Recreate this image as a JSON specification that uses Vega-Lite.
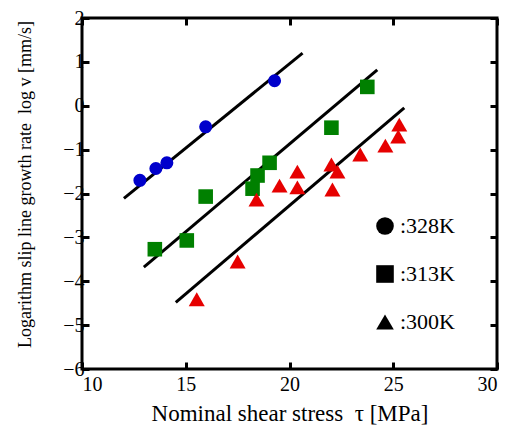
{
  "$schema": "https://vega.github.io/schema/vega-lite/v6.json",
  "width": 415,
  "height": 351,
  "autosize": {"type": "none"},
  "padding": {"left": 82, "top": 18, "right": 16, "bottom": 56},
  "background": "white",
  "config": {
    "view": {"stroke": "black", "strokeWidth": 3},
    "axis": {
      "grid": false,
      "domain": false,
      "labelFont": "Liberation Serif",
      "labelFontSize": 20,
      "labelColor": "black",
      "titleFont": "Liberation Serif",
      "titleFontWeight": "normal",
      "titleColor": "black",
      "tickColor": "black",
      "tickWidth": 3,
      "tickSize": -7
    },
    "legend": {"labelFont": "Liberation Serif"}
  },
  "datasets": {
    "points": [
      {"series": "328K", "tau": 12.79, "logv": -1.70},
      {"series": "328K", "tau": 13.56, "logv": -1.43},
      {"series": "328K", "tau": 14.09, "logv": -1.30},
      {"series": "328K", "tau": 15.96, "logv": -0.48},
      {"series": "328K", "tau": 19.28, "logv": 0.57},
      {"series": "313K", "tau": 13.51, "logv": -3.27},
      {"series": "313K", "tau": 15.05, "logv": -3.07},
      {"series": "313K", "tau": 15.96, "logv": -2.07},
      {"series": "313K", "tau": 18.22, "logv": -1.89},
      {"series": "313K", "tau": 18.46, "logv": -1.59},
      {"series": "313K", "tau": 19.04, "logv": -1.30},
      {"series": "313K", "tau": 22.02, "logv": -0.50},
      {"series": "313K", "tau": 23.75, "logv": 0.43},
      {"series": "300K", "tau": 15.53, "logv": -4.41},
      {"series": "300K", "tau": 17.50, "logv": -3.55},
      {"series": "300K", "tau": 18.41, "logv": -2.14},
      {"series": "300K", "tau": 19.52, "logv": -1.82},
      {"series": "300K", "tau": 20.38, "logv": -1.50},
      {"series": "300K", "tau": 20.38, "logv": -1.86},
      {"series": "300K", "tau": 22.02, "logv": -1.34},
      {"series": "300K", "tau": 22.07, "logv": -1.91},
      {"series": "300K", "tau": 22.31, "logv": -1.50},
      {"series": "300K", "tau": 23.41, "logv": -1.11},
      {"series": "300K", "tau": 24.62, "logv": -0.91},
      {"series": "300K", "tau": 25.24, "logv": -0.70},
      {"series": "300K", "tau": 25.29, "logv": -0.43}
    ],
    "fits": [
      {"series": "328K", "tau": 12.02, "logv": -2.11},
      {"series": "328K", "tau": 20.63, "logv": 1.20},
      {"series": "313K", "tau": 12.98, "logv": -3.68},
      {"series": "313K", "tau": 24.23, "logv": 0.82},
      {"series": "300K", "tau": 14.52, "logv": -4.48},
      {"series": "300K", "tau": 25.53, "logv": -0.05}
    ]
  },
  "layer": [
    {
      "data": {"name": "fits"},
      "mark": {"type": "line", "color": "black", "strokeWidth": 3, "strokeCap": "butt"},
      "encoding": {
        "x": {"field": "tau", "type": "quantitative",
              "scale": {"domain": [10, 30], "nice": false, "zero": false},
              "axis": {"orient": "top", "values": [10, 15, 20, 25, 30], "labels": false, "title": null}},
        "y": {"field": "logv", "type": "quantitative",
              "scale": {"domain": [-6, 2], "nice": false, "zero": false},
              "axis": {"orient": "right", "values": [-6, -5, -4, -3, -2, -1, 0, 1, 2], "labels": false, "title": null}},
        "detail": {"field": "series"}
      }
    },
    {
      "data": {"name": "points"},
      "mark": {"type": "point", "filled": true, "opacity": 1, "strokeWidth": 0},
      "encoding": {
        "x": {"field": "tau", "type": "quantitative",
              "scale": {"domain": [10, 30], "nice": false, "zero": false},
              "axis": {"orient": "bottom", "values": [10, 15, 20, 25, 30], "labelPadding": 12,
                       "labelFont": "Liberation Serif", "labelFontSize": 20,
                       "title": "Nominal shear stress\u00a0\u00a0τ [MPa]", "titleFontSize": 23,
                       "titleFont": "Liberation Serif",
                       "titleY": 51, "titleBaseline": "alphabetic"}},
        "y": {"field": "logv", "type": "quantitative",
              "scale": {"domain": [-6, 2], "nice": false, "zero": false},
              "axis": {"orient": "left", "values": [-6, -5, -4, -3, -2, -1, 0, 1, 2], "labelPadding": 5,
                       "labelFont": "Liberation Serif", "labelFontSize": 20,
                       "title": "Logarithm slip line growth rate\u00a0\u00a0log v [mm/s]", "titleFontSize": 18,
                       "titleFont": "Liberation Serif",
                       "titleX": -57, "titleY": 166, "titleBaseline": "middle"}},
        "color": {"field": "series", "type": "nominal",
                  "scale": {"domain": ["328K", "313K", "300K"], "range": ["#0000cc", "#008000", "#e60000"]},
                  "legend": {"orient": "top-left", "title": null, "symbolOpacity": 0, "labelOpacity": 0}},
        "size": {"field": "series", "type": "nominal",
                 "scale": {"domain": ["328K", "313K", "300K"], "range": [170, 256, 225]},
                 "legend": null},
        "shape": {"field": "series", "type": "nominal",
                  "scale": {"domain": ["328K", "313K", "300K"], "range": ["circle", "square", "triangle-up"]},
                  "legend": {"orient": "none", "legendX": 292, "legendY": 197, "title": null,
                             "labelExpr": "':' + datum.label",
                             "labelFont": "Liberation Serif", "labelFontSize": 22, "labelColor": "black",
                             "labelOffset": 4, "symbolSize": 310, "symbolFillColor": "black",
                             "symbolStrokeColor": "black", "symbolStrokeWidth": 0, "symbolOpacity": 1,
                             "rowPadding": 26}}
      }
    }
  ],
  "resolve": {"axis": {"x": "independent", "y": "independent"}}
}
